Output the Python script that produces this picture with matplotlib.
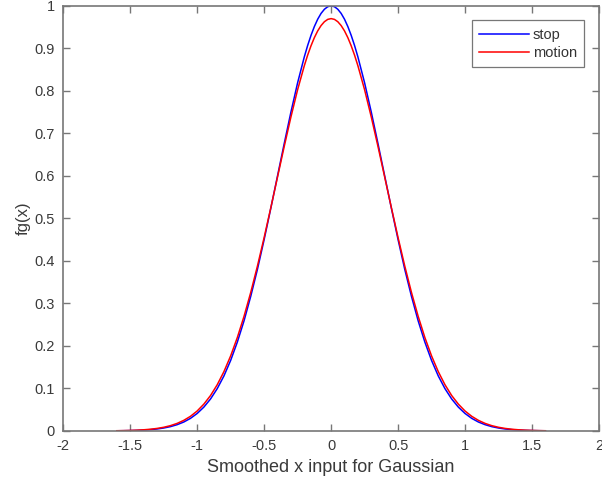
import numpy as np
from matplotlib import pyplot as plt

plt.rcParams['font.family'] = ['Liberation Sans', 'DejaVu Sans']

# values (denser near the peak)
x = [-1.60, -1.55, -1.50, -1.45, -1.40, -1.35, -1.30, -1.25, -1.20, -1.15,
     -1.10, -1.05, -1.00, -0.95, -0.90, -0.85, -0.80, -0.75, -0.70, -0.65,
     -0.60, -0.55, -0.50, -0.45, -0.40, -0.35, -0.30, -0.25, -0.20, -0.175,
     -0.15, -0.125, -0.10, -0.075, -0.05, -0.025, 0.00, 0.025, 0.05, 0.075,
     0.10, 0.125, 0.15, 0.175, 0.20, 0.25, 0.30, 0.35,
     0.40, 0.45, 0.50, 0.55, 0.60, 0.65, 0.70, 0.75, 0.80, 0.85,
     0.90, 0.95, 1.00, 1.05, 1.10, 1.15, 1.20, 1.25, 1.30, 1.35,
     1.40, 1.45, 1.50, 1.55, 1.60]

stop = [0.0003, 0.0005, 0.0008, 0.0012, 0.0019, 0.0030, 0.0045, 0.0068, 0.0100, 0.0146,
        0.0209, 0.0295, 0.0410, 0.0560, 0.0752, 0.0995, 0.1294, 0.1658, 0.2090, 0.2590,
        0.3166, 0.3800, 0.4500, 0.5240, 0.6000, 0.6760, 0.7500, 0.8190, 0.8800, 0.9068,
        0.9306, 0.9513, 0.9686, 0.9822, 0.9920, 0.9980, 1.0000, 0.9980, 0.9920, 0.9822,
        0.9686, 0.9513, 0.9306, 0.9068, 0.8800, 0.8190, 0.7500, 0.6760,
        0.6000, 0.5240, 0.4500, 0.3800, 0.3166, 0.2590, 0.2090, 0.1658, 0.1294, 0.0995,
        0.0752, 0.0560, 0.0410, 0.0295, 0.0209, 0.0146, 0.0100, 0.0068, 0.0045, 0.0030,
        0.0019, 0.0012, 0.0008, 0.0005, 0.0003]

motion = [0.0004, 0.0007, 0.0011, 0.0017, 0.0026, 0.0039, 0.0058, 0.0085, 0.0123, 0.0176,
          0.0248, 0.0343, 0.0468, 0.0630, 0.0833, 0.1087, 0.1395, 0.1764, 0.2197, 0.2696,
          0.3258, 0.3878, 0.4548, 0.5252, 0.5973, 0.6692, 0.7385, 0.8027, 0.8592, 0.8841,
          0.9061, 0.9252, 0.9411, 0.9536, 0.9627, 0.9682, 0.9700, 0.9682, 0.9627, 0.9536,
          0.9411, 0.9252, 0.9061, 0.8841, 0.8592, 0.8027, 0.7385, 0.6692,
          0.5973, 0.5252, 0.4548, 0.3878, 0.3258, 0.2696, 0.2197, 0.1764, 0.1395, 0.1087,
          0.0833, 0.0630, 0.0468, 0.0343, 0.0248, 0.0176, 0.0123, 0.0085, 0.0058, 0.0039,
          0.0026, 0.0017, 0.0011, 0.0007, 0.0004]

xticks = [-2, -1.5, -1, -0.5, 0, 0.5, 1, 1.5, 2]
yticks = [0, 0.1, 0.2, 0.3, 0.4, 0.5, 0.6, 0.7, 0.8, 0.9, 1]

fig = plt.figure(figsize=(6.02, 4.88), dpi=100)
ax = fig.add_axes([0.105, 0.117, 0.890, 0.871])

ax.plot(x, stop, color='#0000ff', lw=1.1, label='stop')
ax.plot(x, motion, color='#ff0000', lw=1.1, label='motion')

ax.set_xlim(-2, 2)
ax.set_ylim(0, 1)
ax.set_xticks(xticks)
ax.set_xticklabels(['-2', '-1.5', '-1', '-0.5', '0', '0.5', '1', '1.5', '2'])
ax.set_yticks(yticks)
ax.set_yticklabels(['0', '0.1', '0.2', '0.3', '0.4', '0.5', '0.6', '0.7', '0.8', '0.9', '1'])

gray = '#777777'
for s in ax.spines.values():
    s.set_color(gray)
    s.set_linewidth(1.2)
ax.tick_params(direction='in', length=5, width=1, color=gray, labelcolor='#3a3a3a',
               labelsize=10.5, top=True, right=True, pad=6)

ax.set_xlabel('Smoothed x input for Gaussian', fontsize=13, color='#3a3a3a', labelpad=4)
ax.set_ylabel('fg(x)', fontsize=12, color='#3a3a3a', labelpad=3)

leg = ax.legend(loc='upper right', fontsize=10.5, frameon=True, fancybox=False,
                borderaxespad=1.0, handlelength=3.4, labelspacing=0.3,
                borderpad=0.5, handletextpad=0.3)
leg.get_frame().set_edgecolor('#555555')
leg.get_frame().set_linewidth(0.9)
for t in leg.get_texts():
    t.set_color('#333333')

fig.savefig('out.png', dpi=100)
